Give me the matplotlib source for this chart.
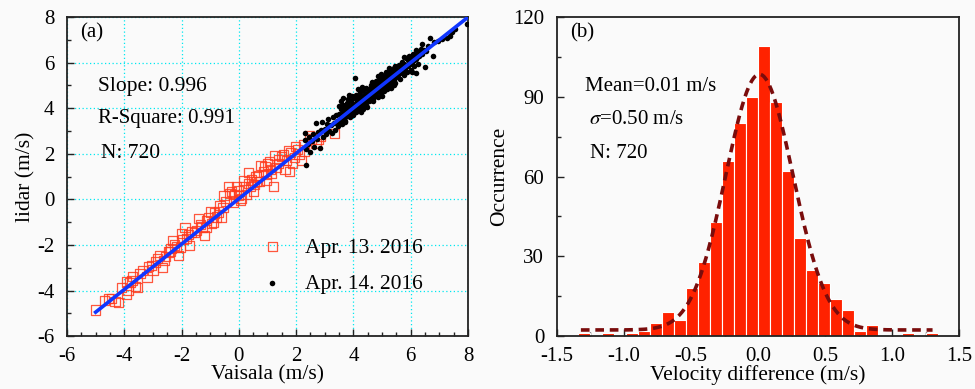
import numpy as np
import matplotlib
matplotlib.use("Agg")
import matplotlib.pyplot as plt
from matplotlib.ticker import MultipleLocator

plt.rcParams['font.family'] = ['Liberation Serif', 'DejaVu Serif']
plt.rcParams['mathtext.fontset'] = 'stix'
plt.rcParams['axes.unicode_minus'] = False

# ---- panel (a): lidar vs Vaisala ----
apr13_x = [-5.00, -4.69, -4.55, -4.45, -4.32, -4.20, -4.10, -3.93, -3.91, -3.87, -3.80, -3.73,
           -3.70, -3.62, -3.54, -3.45, -3.36, -3.21, -3.15, -3.04, -3.00, -2.92, -2.85, -2.77,
           -2.67, -2.61, -2.55, -2.46, -2.40, -2.37, -2.31, -2.25, -2.17, -2.11, -2.05, -1.99,
           -1.95, -1.88, -1.82, -1.75, -1.72, -1.64, -1.55, -1.47, -1.41, -1.35, -1.29, -1.21,
           -1.15, -1.12, -1.05, -1.00, -0.95, -0.89, -0.85, -0.77, -0.70, -0.66, -0.60, -0.55,
           -0.52, -0.45, -0.37, -0.31, -0.25, -0.19, -0.15, -0.07, -0.02, 0.00, 0.05, 0.10,
           0.15, 0.18, 0.25, 0.33, 0.35, 0.41, 0.45, 0.51, 0.55, 0.60, 0.62, 0.68, 0.72,
           0.77, 0.85, 0.91, 0.95, 0.97, 1.00, 1.06, 1.10, 1.15, 1.20, 1.26, 1.30, 1.38,
           1.40, 1.49, 1.55, 1.61, 1.65, 1.73, 1.76, 1.80, 1.88, 1.95, 1.99, 2.05, 2.10,
           2.19, 2.25, 2.30, 2.46, 2.55, 2.69, 2.77, 2.85, 3.33]
apr13_y = [-4.85, -4.43, -4.35, -4.36, -4.48, -4.54, -3.85, -4.17, -3.63, -4.00, -3.65, -3.55,
           -3.38, -3.82, -3.88, -3.25, -3.11, -3.41, -2.95, -2.89, -3.10, -2.75, -2.60, -2.45,
           -3.00, -2.67, -2.50, -2.31, -2.30, -2.16, -1.80, -2.00, -2.09, -2.45, -2.10, -1.50,
           -1.75, -1.24, -1.72, -1.55, -2.01, -1.43, -1.45, -1.35, -0.84, -1.10, -1.21, -1.57,
           -1.25, -0.91, -0.80, -0.55, -1.05, -0.99, -0.60, -0.77, -0.55, -0.26, -0.77, -0.35,
           0.18, -0.10, 0.55, 0.26, 0.35, -0.11, 0.20, 0.55, 0.18, 0.40, -0.05, 0.04,
           0.55, 0.84, 0.20, 1.17, 0.70, 0.55, 0.85, 0.33, 0.65, 1.00, 0.77, 1.06, 0.80,
           1.50, 1.20, 1.43, 1.10, 0.84, 1.55, 1.65, 1.30, 1.14, 0.58, 1.94, 1.40, 1.58,
           1.75, 1.87, 1.95, 1.31, 1.70, 2.16, 1.21, 2.05, 1.58, 1.85, 2.31, 2.20, 1.99,
           1.72, 2.40, 2.10, 2.82, 2.65, 2.46, 2.63, 2.75, 2.90]

apr14_x = [2.30, 2.32, 2.34, 2.36, 2.40, 2.45, 2.50, 2.55, 2.60, 2.62, 2.68, 2.72, 2.78, 2.85,
           2.88, 2.92, 2.95, 3.00, 3.05, 3.08, 3.12, 3.15, 3.20, 3.24, 3.28, 3.32, 3.35, 3.40,
           3.42, 3.46, 3.48,
           3.50, 3.52, 3.55, 3.57, 3.60, 3.62, 3.64, 3.66, 3.68, 3.70, 3.72, 3.74, 3.76, 3.78,
           3.80, 3.82, 3.84, 3.86, 3.88, 3.90, 3.92, 3.94, 3.96, 3.98, 4.00, 4.02, 4.04, 4.05,
           4.06, 4.08, 4.10, 4.12, 4.14, 4.16, 4.18, 4.20, 4.22, 4.24, 4.26, 4.28, 4.30, 4.32,
           4.34, 4.36, 4.38, 4.40, 4.42, 4.44, 4.46, 4.48, 4.50, 3.58, 3.70, 3.85, 4.00, 4.15,
           4.30, 4.45, 3.65, 4.25,
           4.52, 4.54, 4.56, 4.58, 4.60, 4.62, 4.64, 4.66, 4.68, 4.70, 4.72, 4.74, 4.76, 4.78,
           4.80, 4.82, 4.84, 4.86, 4.88, 4.90, 4.92, 4.94, 4.96, 4.98, 5.00, 5.02, 5.04, 5.06,
           5.08, 5.10, 5.12, 5.14, 5.16, 5.18, 5.20, 5.22, 5.24, 5.26, 5.28, 5.30, 5.32, 5.34,
           5.36, 5.38, 5.40, 5.42, 5.44, 5.46, 5.48, 5.50, 4.70, 4.85, 5.00, 5.15, 5.30, 5.45,
           4.60, 4.95, 5.25, 5.40,
           5.52, 5.55, 5.58, 5.60, 5.62, 5.65, 5.68, 5.70, 5.72, 5.75, 5.78, 5.80, 5.82, 5.85,
           5.88, 5.90, 5.92, 5.95, 5.98, 6.00, 6.02, 6.05, 6.08, 6.10, 6.12, 6.15, 6.18, 6.20,
           6.22, 6.25, 6.28, 6.30, 6.35, 6.40, 6.45, 6.50, 6.18, 6.38, 6.05, 5.75,
           6.55, 6.60, 6.68, 6.78, 6.80, 6.95, 7.10, 7.26, 7.37, 7.45, 7.55, 7.95]
apr14_y = [2.90, 2.60, 1.50, 2.20, 2.45, 2.75, 2.10, 2.55, 2.85, 2.30, 3.35, 2.65, 2.95, 2.25,
           3.05, 3.40, 2.75, 3.10, 2.85, 3.30, 3.55, 3.00, 3.25, 2.90, 3.60, 3.35, 3.05, 3.70,
           3.45, 3.20, 4.10,
           3.75, 3.40, 3.95, 3.62, 3.30, 3.88, 4.15, 3.55, 3.78, 4.05, 3.45, 3.92, 4.25, 3.68,
           3.98, 4.40, 3.75, 4.10, 3.60, 4.30, 3.88, 4.55, 4.02, 3.75, 4.20, 4.45, 3.90, 5.32,
           4.12, 4.60, 3.85, 4.30, 4.05, 4.50, 4.18, 3.95, 4.70, 4.35, 4.08, 4.55, 4.25, 3.98,
           4.80, 4.40, 4.15, 4.62, 4.30, 4.90, 4.45, 4.05, 4.70, 4.30, 3.40, 4.60, 3.70, 4.85,
           4.95, 4.15, 4.45, 3.85,
           4.55, 4.85, 4.30, 4.68, 5.00, 4.48, 4.75, 5.15, 4.40, 4.90, 4.62, 5.05, 4.55, 4.85,
           5.20, 4.70, 4.95, 4.50, 5.10, 4.80, 5.30, 4.92, 4.65, 5.15, 4.85, 5.35, 5.00, 4.75,
           5.25, 4.95, 5.45, 5.10, 4.85, 5.30, 5.05, 5.55, 5.20, 4.95, 5.40, 5.15, 5.65, 5.28,
           5.05, 5.50, 5.25, 5.75, 5.40, 5.10, 5.60, 5.35, 4.30, 5.40, 4.55, 5.60, 4.90, 5.85,
           4.35, 5.50, 5.75, 5.00,
           5.70, 5.45, 5.90, 5.60, 5.30, 5.80, 5.55, 6.05, 5.75, 5.45, 5.95, 5.70, 6.20, 5.85,
           5.60, 6.10, 5.85, 6.30, 5.95, 5.70, 6.20, 6.00, 6.40, 6.10, 5.85, 6.35, 6.15, 6.55,
           6.25, 5.95, 6.45, 6.30, 6.60, 6.40, 6.55, 5.80, 5.55, 6.83, 5.60, 6.25,
           6.50, 6.75, 7.09, 6.30, 6.90, 6.95, 7.05, 7.09, 7.19, 7.35, 7.50, 7.71]

fit_slope = 0.996
fit_intercept = 0.03
fit_range = [-5.0, 8.0]

# ---- panel (b): histogram of velocity difference ----
bin_edges_range = (-1.344, 1.344)
n_bins = 30
counts = [1, 0, 1, 0, 1, 2, 5, 9, 6, 18, 28, 43, 66, 80, 90,
          109, 88, 62, 37, 25, 20, 14, 10, 2, 4, 0, 0, 1, 0, 1]
# Gaussian fit (Origin form: y0 + A*exp(-2(x-xc)^2/w^2))
g_y0, g_A, g_xc, g_w = 2.3, 96.2, 0.01, 0.5
g_range = (-1.32, 1.30)

bg = '#fafafa'
fig = plt.figure(figsize=(9.75, 3.89), dpi=100, facecolor=bg)
ax1 = fig.add_axes([0.0687, 0.136, 0.4113, 0.82], facecolor=bg)
ax2 = fig.add_axes([0.571, 0.136, 0.413, 0.82], facecolor=bg)

for ax in (ax1, ax2):
    for s in ax.spines.values():
        s.set_linewidth(1.3)
        s.set_color('#222222')
    ax.tick_params(which='both', direction='in', top=False, right=False,
                   labelsize=15, width=1.0, color='#222222')
    ax.tick_params(which='major', length=5)
    ax.tick_params(which='minor', length=3)
    ax.tick_params(axis='y', pad=9)
    ax.tick_params(axis='x', pad=8)

# panel (a)
ax1.set_xlim(-6, 8)
ax1.set_ylim(-6, 8)
ax1.xaxis.set_major_locator(MultipleLocator(2))
ax1.xaxis.set_minor_locator(MultipleLocator(0.5))
ax1.yaxis.set_major_locator(MultipleLocator(2))
ax1.yaxis.set_minor_locator(MultipleLocator(1))
ax1.grid(True, which='major', color='#00e8f0', linestyle=(0, (1, 2)), linewidth=0.9)
ax1.set_axisbelow(True)

ax1.scatter(apr13_x, apr13_y, s=44, marker='s', facecolors='none',
            edgecolors='#ff3a1c', linewidths=0.9, alpha=0.85, label='Apr. 13. 2016', zorder=3)
ax1.scatter(apr14_x, apr14_y, s=16, marker='o', color='black', linewidths=0,
            label='Apr. 14. 2016', zorder=3)
fx = np.array(fit_range)
ax1.plot(fx, fit_slope * fx + fit_intercept, color='#1036ff', lw=2.6, zorder=4)

ax1.set_xlabel('Vaisala (m/s)', fontsize=15.5, labelpad=-1)
ax1.set_ylabel('lidar (m/s)', fontsize=15.5, labelpad=1)
ax1.text(0.032, 0.95, '(a)', transform=ax1.transAxes, fontsize=15, va='center')
ax1.text(0.077, 0.784, 'Slope: 0.996', transform=ax1.transAxes, fontsize=15.5, va='center')
ax1.text(0.077, 0.683, 'R-Square: 0.991', transform=ax1.transAxes, fontsize=15, va='center')
ax1.text(0.085, 0.574, 'N: 720', transform=ax1.transAxes, fontsize=15.5, va='center')
ax1.legend(loc='upper left', bbox_to_anchor=(0.41, 0.37), frameon=False, fontsize=15.5,
           handletextpad=0.5, labelspacing=0.75, markerscale=1.0)

# panel (b)
edges = np.linspace(bin_edges_range[0], bin_edges_range[1], n_bins + 1)
centers = 0.5 * (edges[:-1] + edges[1:])
width = edges[1] - edges[0]
ax2.bar(centers, counts, width=width, color='#ff2200', edgecolor='white', linewidth=0.8, zorder=2)
gx = np.linspace(g_range[0], g_range[1], 400)
gy = g_y0 + g_A * np.exp(-2 * (gx - g_xc) ** 2 / g_w ** 2)
ax2.plot(gx, gy, color='#7a0c0c', lw=2.6, linestyle=(0, (2.4, 1.6)), zorder=3)

ax2.set_xlim(-1.5, 1.5)
ax2.set_ylim(0, 120)
ax2.xaxis.set_major_locator(MultipleLocator(0.5))
ax2.xaxis.set_minor_locator(MultipleLocator(0.25))
ax2.yaxis.set_major_locator(MultipleLocator(30))
ax2.yaxis.set_minor_locator(MultipleLocator(15))
ax2.set_xlabel('Velocity difference (m/s)', fontsize=15.5, labelpad=-1)
ax2.set_ylabel('Occurrence', fontsize=15.5, labelpad=3)
ax2.text(0.034, 0.95, '(b)', transform=ax2.transAxes, fontsize=15, va='center')
ax2.text(0.07, 0.784, 'Mean=0.01 m/s', transform=ax2.transAxes, fontsize=15, va='center')
ax2.text(0.08, 0.68, r'$\sigma$=0.50 m/s', transform=ax2.transAxes, fontsize=15, va='center')
ax2.text(0.082, 0.574, 'N: 720', transform=ax2.transAxes, fontsize=15, va='center')

fig.savefig('out.png', dpi=100, facecolor=bg)
